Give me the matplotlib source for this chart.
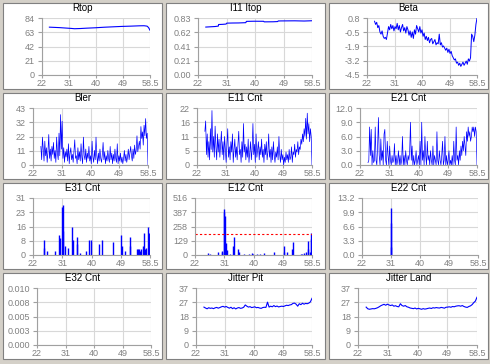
import numpy as np
import matplotlib
matplotlib.use('Agg')
import matplotlib.pyplot as plt
from matplotlib.patches import Rectangle

plt.rcParams['font.family'] = ['Liberation Sans', 'DejaVu Sans']

# x range shared by all panels
x_ticks = ['22', '31', '40', '49', '58.5']
x_min, x_max = 22, 58.5
t_start, t_end = 24.5, 58.5

# Rtop
rtop_x = [24.5, 26, 28, 30, 32, 33, 35, 37, 40, 43, 46, 49, 52, 55, 56.5, 57.5, 58, 58.5]
rtop_y = [70.5, 70.2, 69.8, 69.2, 68.6, 68.2, 68.5, 69.0, 69.6, 70.4, 71.0, 71.6, 72.0, 72.5, 72.6, 72.0, 70.0, 66.0]

# I11 Itop
itop_x = [24.5, 26, 27.5, 28.5, 28.6, 30, 31, 31.2, 33, 35, 37.3, 37.5, 40, 43, 43.2, 46, 47.5, 47.7, 50, 53, 56, 58.5]
itop_y = [0.698, 0.702, 0.706, 0.712, 0.735, 0.738, 0.742, 0.755, 0.757, 0.758, 0.762, 0.781, 0.783, 0.782, 0.774, 0.775, 0.778, 0.787, 0.788, 0.789, 0.786, 0.79]

# Beta
beta = [0.5, 0.2, 0.4, -0.1, 0.1, -0.5, -0.7, -0.4, -0.9, -1.1,
        -1.0, -1.2, -0.6,
        0.0, -0.3, 0.2, -0.2, 0.1, -0.4, 0.0,
        -0.2, 0.3, -0.3, 0.1, -0.5, -0.1, 0.2, -0.4, -0.1, -0.6, 0.0, -0.3,
        -0.8, -0.4, -1.0, -0.5, -1.1, -0.3, -0.7, 0.1,
        -0.2, -0.5, 0.0, -0.6, -0.3, -0.9, -0.6, -1.2,
        -0.9, -1.3, -1.0, -1.5, -1.2, -1.1, -1.6, -1.4, -1.2, -1.7, -1.5,
        -1.6, -0.7, -1.7, -1.5, -1.9, -1.8, -2.0, -2.2,
        -2.0, -2.4, -2.1, -2.5, -2.3, -2.7, -2.9, -3.1,
        -3.0, -3.4, -3.3, -3.6, -3.4, -3.7, -3.5, -3.3,
        -3.6, -3.4, -3.2, -3.5, -3.0, -3.2, -2.9,
        -0.7, -0.9, -1.4, -0.8, 0.2, 0.8]

# Bler
bler = [14,
        4, 21, 12, 3, 18, 7, 13, 2, 10, 23, 5, 12, 3, 14, 8, 17,
        5, 11, 2, 21, 9, 4, 24, 7, 38, 12, 33, 5, 13, 2, 10, 6,
        12, 3, 16, 1, 9, 13, 4, 8, 2, 11, 19, 5, 7, 1, 13, 4,
        10, 3, 16, 6, 1, 21, 7, 4, 12, 2, 9, 5, 14, 3, 7, 1,
        18, 6, 2, 11, 4, 21, 7, 1, 9, 3, 12, 5, 2, 8, 17, 4,
        10, 1, 7, 3, 11, 5, 2, 14, 4, 9, 1, 8, 3, 12, 5, 2,
        16, 1, 7, 3, 9, 2, 6, 1, 5, 11, 3, 8, 2, 6, 12, 4,
        9, 14, 7, 3, 12, 5, 15, 8, 11, 22, 10, 14, 18, 12, 29, 20,
        25, 15, 30, 22, 35, 20, 24, 0]

# E11 Cnt
e11 = [13,
       17, 4, 12, 3, 9, 2, 14, 6, 21, 5, 11, 3, 15, 7, 2, 12,
       5, 10, 3, 8, 13, 4, 9, 2, 11, 6, 1, 8, 14, 3, 7, 2,
       9, 5, 12, 1, 6, 10, 3, 7, 2, 8, 13, 4, 6, 1, 9, 3,
       16, 5, 8, 2, 7, 3, 10, 1, 5, 9, 2, 6, 16, 4, 8, 1,
       12, 3, 6, 9, 2, 7, 4, 10, 3, 6, 1, 8, 4, 9, 2, 5,
       12, 3, 6, 1, 7, 2, 9, 4, 1, 5, 3, 7, 2, 11, 4, 1,
       6, 2, 4, 0, 3, 1, 5, 2, 4, 1, 6, 2, 3, 7, 1, 5,
       4, 8, 3, 6, 5, 9, 4, 7, 6, 10, 8, 12, 9, 14, 11, 18,
       10, 20, 12, 16, 9, 14, 11, 0]

# E21 Cnt
e21 = [0.5,
       1, 8, 2, 7.5, 0, 3, 0.5, 1, 8, 1, 0, 4, 10, 2, 0, 5.5,
       1, 3, 0, 6.5, 7.5, 1, 0, 5, 2, 0, 4, 1, 0, 2, 0.5, 1,
       4.5, 0, 2, 0, 1, 3, 0, 2, 0, 1, 6, 0, 2, 0, 3, 1,
       0, 2, 1, 3, 9, 1, 4, 0, 2, 0, 1, 3, 0, 1, 2, 0,
       5, 0, 9, 1, 3, 0, 6, 2, 0, 5, 1, 2, 0, 3, 1, 0,
       4, 0, 2, 1, 0, 7, 1, 0, 3, 1, 0, 2, 5, 0, 1, 6,
       0, 2, 0, 1, 3, 0, 1, 0, 2, 0, 5, 1, 0, 8, 1, 2,
       0, 3, 1, 4, 2, 5, 3, 6, 4, 2, 7, 5, 8, 6, 7, 5,
       6, 8, 7, 8, 6, 8, 7, 0]

# E31 Cnt (spikes)
e31_x = [25.4, 25.5, 26.5, 28.8, 30.1, 30.4, 31.2, 31.35, 31.5, 31.9, 32.9, 34.3, 34.4, 35.6, 35.7, 36.8,
         38.5, 39.5, 40.0, 42.6, 43.6, 47.0, 49.6, 49.7, 50.7, 52.2, 52.3, 54.3, 54.7, 55.0, 55.4, 55.8,
         56.2, 56.6, 57.0, 57.4, 57.8, 58.1, 58.4]
e31_y = [8, 4, 2, 2, 11, 9, 26, 27, 13, 5, 4, 15, 8, 10, 6, 1,
         2, 8, 8, 6, 8, 7, 11, 5, 2, 10, 5, 3, 3, 3, 2, 3,
         5, 12, 3, 4, 15, 12, 7]

# E12 Cnt (spikes)
e12_x = [26.0, 26.7, 29.3, 30.3, 30.5, 31.1, 31.2, 31.35, 31.6, 31.9, 32.8, 34.0, 34.2, 35.5, 35.7, 37.2,
         38.8, 39.8, 40.0, 41.3, 42.4, 43.5, 46.8, 49.7, 49.9, 50.8, 52.3, 52.6, 55.0, 55.5, 56.0, 56.5,
         57.2, 57.4, 57.8, 58.2, 58.3, 58.5]
e12_y = [18, 5, 25, 35, 25, 420, 390, 350, 110, 45, 10, 80, 160, 50, 30, 5,
         10, 20, 12, 8, 12, 20, 25, 80, 30, 30, 50, 115, 5, 10, 20, 30,
         130, 50, 30, 200, 145, 50]
e12_limit = 194

# E22 Cnt (spikes)
e22_x = [31.0, 31.1, 31.2]
e22_y = [11, 7.3, 1.8]

# Jitter Pit / Jitter Land
jit_pit = [24.6,
           24.0, 23.5, 24.2, 23.8, 24.0, 23.6, 24.1, 24.4, 23.9, 24.3, 24.8, 25.1, 24.6, 25.0, 24.4, 23.9,
           24.5, 23.6, 24.2, 23.4, 24.0, 24.3, 23.8, 24.0, 24.5, 26.0, 25.2, 24.6, 24.9, 24.3, 24.5, 24.8,
           24.2, 24.4, 24.0, 23.8, 24.3, 24.5, 24.4, 27.8, 24.6, 25.2, 24.8, 25.6, 24.9, 25.3, 24.7, 25.0,
           25.2, 25.0, 25.4, 25.8, 25.6, 26.0, 26.2, 27.0, 27.2, 26.5, 25.2, 26.8, 26.2, 27.1, 26.5, 27.0,
           26.8, 27.2, 28.0, 30.3]
jit_land = [24.6,
            23.5, 23.2, 23.4, 23.6, 23.5, 23.8, 24.2, 24.8, 25.5, 26.0, 26.4, 25.8, 26.5, 26.0, 25.6, 26.0,
            25.2, 25.5, 25.0, 24.8, 26.8, 25.6, 25.2, 25.6, 24.8, 24.5, 24.0, 23.8, 23.6, 24.0, 23.4, 23.8,
            23.5, 23.2, 23.6, 23.3, 23.5, 23.8, 24.0, 23.7, 24.2, 24.0, 24.3, 24.1, 24.0, 24.4, 24.2, 23.9,
            24.5, 24.6, 24.8, 24.5, 25.0, 24.8, 25.2, 25.4, 25.5, 25.2, 25.6, 25.0, 24.6, 24.4, 25.0, 25.4,
            26.2, 27.5, 28.5, 31.0]

titles = ['Rtop', 'I11 Itop', 'Beta', 'Bler', 'E11 Cnt', 'E21 Cnt',
          'E31 Cnt', 'E12 Cnt', 'E22 Cnt', 'E32 Cnt', 'Jitter Pit', 'Jitter Land']
y_ranges = [(0, 84), (0, 0.83), (-4.5, 0.8), (0, 43), (0, 22), (0, 12),
            (0, 31), (0, 516), (0, 13.2), (0, 0.01), (0, 37), (0, 37)]
y_labels = [['0', '21', '42', '63', '84'],
            ['0.00', '0.21', '0.41', '0.62', '0.83'],
            ['-4.5', '-3.2', '-1.9', '-0.5', '0.8'],
            ['0', '11', '22', '32', '43'],
            ['0', '5', '11', '16', '22'],
            ['0.0', '3.0', '6.0', '9.0', '12.0'],
            ['0', '8', '16', '23', '31'],
            ['0', '129', '258', '387', '516'],
            ['0.0', '3.3', '6.6', '9.9', '13.2'],
            ['0.000', '0.003', '0.005', '0.008', '0.010'],
            ['0', '9', '18', '27', '37'],
            ['0', '9', '18', '27', '37']]

W, H = 490, 364
fig = plt.figure(figsize=(W / 100, H / 100), dpi=100, facecolor='#d4d0c8')

panel_left = [3, 166, 329]
panel_top = [3, 93, 183, 273]
panel_w, panel_h = 159, 86
# axes left/right edges in pixels, per panel
ax_lr = [(42, 150), (198, 312), (367, 477),
         (33, 148), (197, 312), (360, 477),
         (33, 150), (195, 312), (362, 478),
         (37, 151), (196, 312), (358, 477)]
row_off = [0, 90, 180, 270]

blue = '#0000ff'
axes = []
for i in range(12):
    r, c = divmod(i, 3)
    px, py = panel_left[c], panel_top[r]
    rect = Rectangle((px / W, 1 - (py + panel_h) / H), panel_w / W, panel_h / H,
                     transform=fig.transFigure, facecolor='white',
                     edgecolor='#808080', lw=0.8, zorder=-1)
    fig.patches.append(rect)
    fig.text((px + panel_w / 2) / W, 1 - (row_off[r] + 8) / H, titles[i],
             ha='center', va='center', fontsize=7, color='black')
    l, rr = ax_lr[i]
    t, b = row_off[r] + 18, row_off[r] + 75
    ax = fig.add_axes([l / W, 1 - b / H, (rr - l) / W, (b - t) / H])
    ax.set_facecolor('white')
    ax.set_xlim(x_min, x_max)
    ax.set_xticks(np.linspace(x_min, x_max, 5))
    ax.set_xticklabels(x_ticks)
    lo, hi = y_ranges[i]
    ax.set_ylim(lo, hi)
    ax.set_yticks(np.linspace(lo, hi, 5))
    ax.set_yticklabels(y_labels[i])
    ax.grid(True, color='#d8d8d8', lw=0.8)
    ax.set_axisbelow(True)
    for s in ['top', 'right']:
        ax.spines[s].set_visible(False)
    for s in ['left', 'bottom']:
        ax.spines[s].set_color('#a0a0a0')
        ax.spines[s].set_linewidth(0.8)
    ax.tick_params(labelsize=6.5, labelcolor='#808080', color='#a0a0a0',
                   length=3, width=0.8, pad=2)
    ax.tick_params(axis='x', length=2, pad=1)
    axes.append(ax)

axes[0].plot(rtop_x, rtop_y, color=blue, lw=0.8)
axes[1].plot(itop_x, itop_y, color=blue, lw=0.8)
axes[2].plot(np.linspace(t_start, t_end, len(beta)), beta, color=blue, lw=0.7)
axes[3].plot(np.linspace(t_start, t_end, len(bler)), bler, color=blue, lw=0.5)
axes[4].plot(np.linspace(t_start, t_end, len(e11)), e11, color=blue, lw=0.5)
axes[5].plot(np.linspace(t_start, t_end, len(e21)), e21, color=blue, lw=0.5)
axes[6].vlines(e31_x, 0, e31_y, color=blue, lw=1.0)
axes[7].vlines(e12_x, 0, e12_y, color=blue, lw=1.0)
axes[7].axhline(e12_limit, color='red', lw=0.8, ls=(0, (2, 2)))
axes[8].vlines(e22_x, 0, e22_y, color=blue, lw=1.0)
axes[10].plot(np.linspace(t_start, t_end, len(jit_pit)), jit_pit, color=blue, lw=0.8)
axes[11].plot(np.linspace(t_start, t_end, len(jit_land)), jit_land, color=blue, lw=0.8)

fig.savefig('out.png', dpi=100, facecolor=fig.get_facecolor())
